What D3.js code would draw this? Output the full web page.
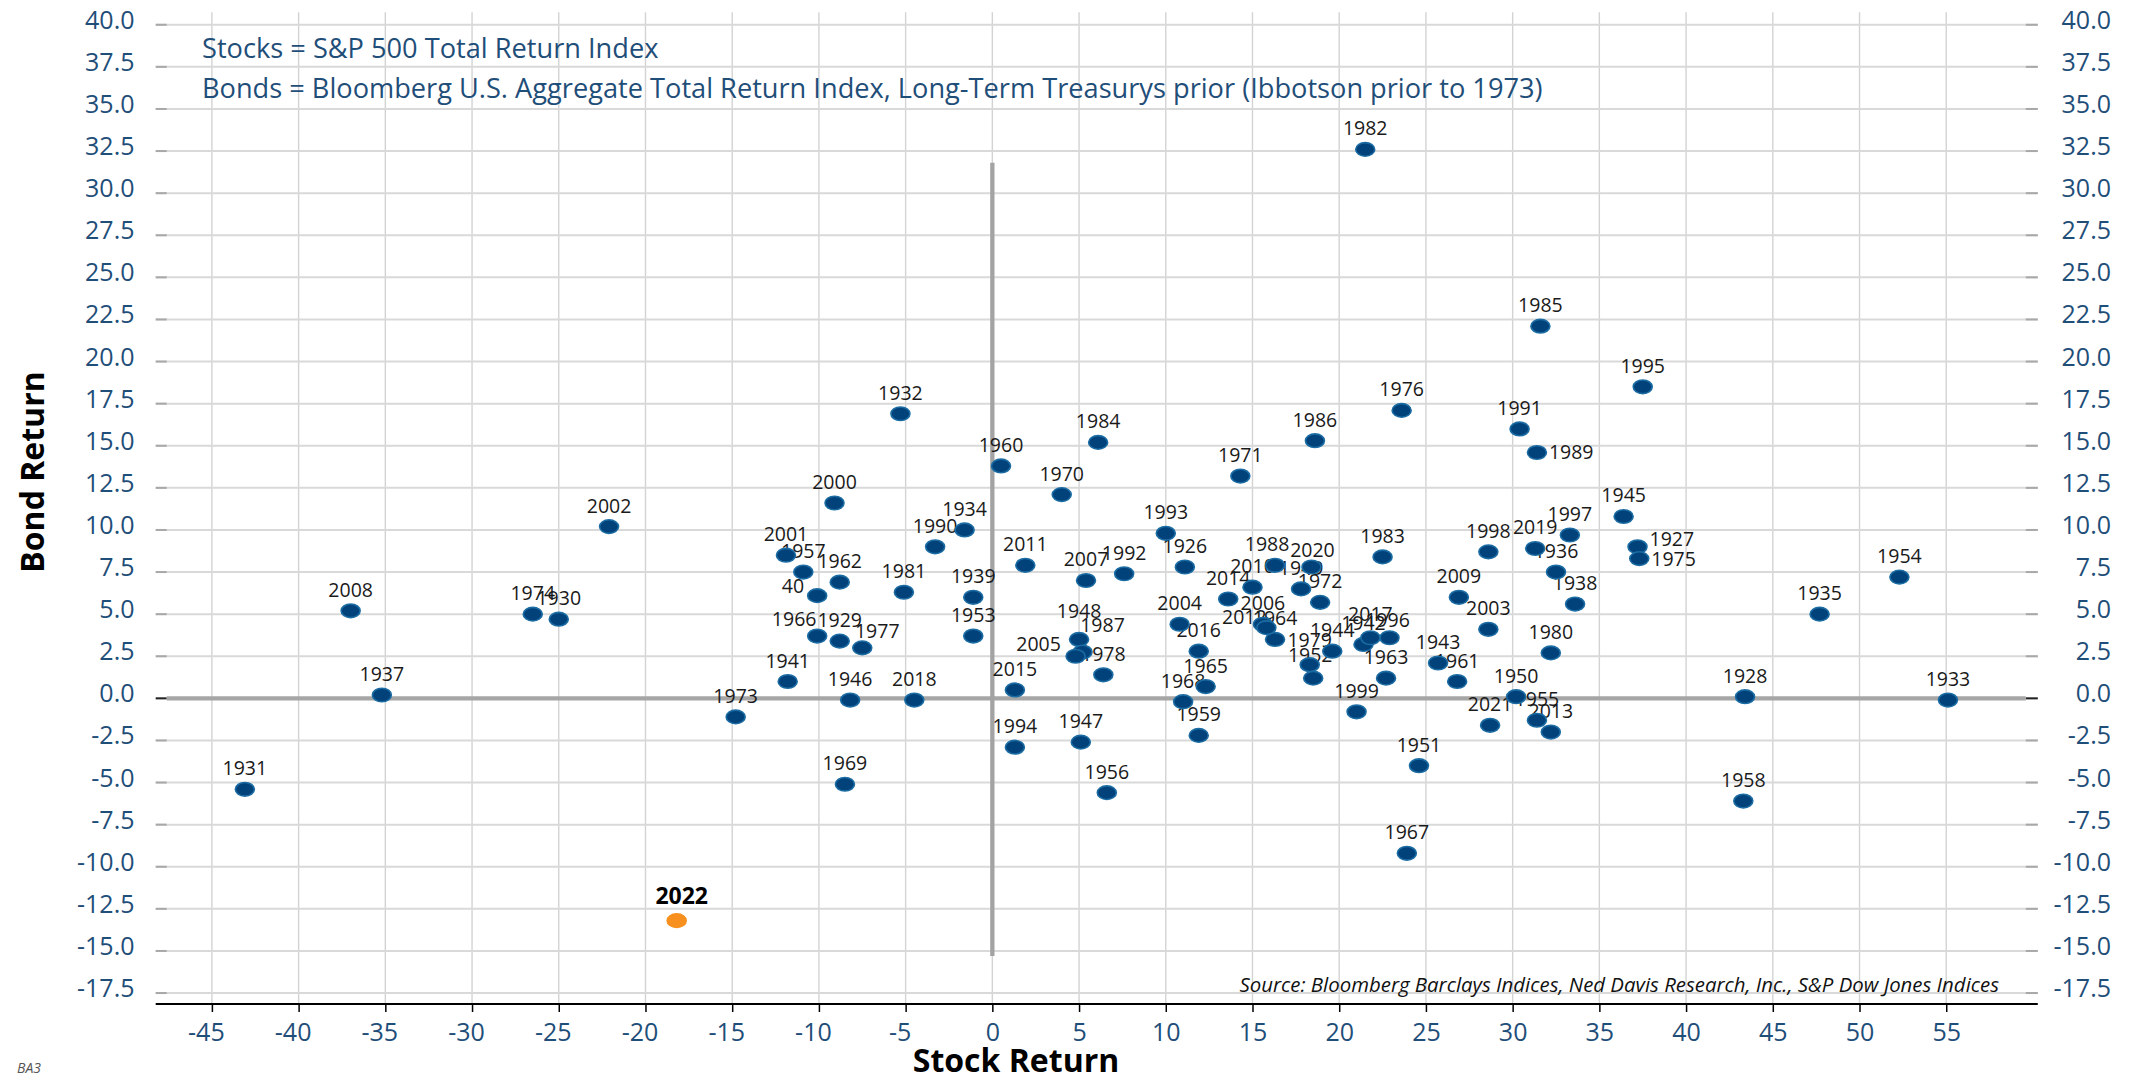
<!DOCTYPE html>
<html>
<head>
<meta charset="utf-8">
<script src="https://cdn.jsdelivr.net/npm/d3@7"></script>
<style>
body { margin: 0; background: #fff; }
svg { display: block; font-family: "Open Sans", sans-serif; }
</style>
</head>
<body>
<svg id="chart" width="2141" height="1078"></svg>
<script>
// calendar years, 1926-2022
const years = [
	1926, 1927, 1928, 1929, 1930, 1931, 1932, 1933, 1934, 1935,
	1936, 1937, 1938, 1939, 1940, 1941, 1942, 1943, 1944, 1945,
	1946, 1947, 1948, 1949, 1950, 1951, 1952, 1953, 1954, 1955,
	1956, 1957, 1958, 1959, 1960, 1961, 1962, 1963, 1964, 1965,
	1966, 1967, 1968, 1969, 1970, 1971, 1972, 1973, 1974, 1975,
	1976, 1977, 1978, 1979, 1980, 1981, 1982, 1983, 1984, 1985,
	1986, 1987, 1988, 1989, 1990, 1991, 1992, 1993, 1994, 1995,
	1996, 1997, 1998, 1999, 2000, 2001, 2002, 2003, 2004, 2005,
	2006, 2007, 2008, 2009, 2010, 2011, 2012, 2013, 2014, 2015,
	2016, 2017, 2018, 2019, 2020, 2021, 2022
];

// S&P 500 total return, %
const stockReturns = [
	11.1, 37.2, 43.4, -8.8, -25.0, -43.1, -5.3, 55.1, -1.6, 47.7,
	32.5, -35.2, 33.6, -1.1, -10.1, -11.8, 21.4, 25.7, 19.6, 36.4,
	-8.2, 5.1, 5.0, 17.8, 30.2, 24.6, 18.5, -1.1, 52.3, 31.4,
	6.6, -10.9, 43.3, 11.9, 0.5, 26.8, -8.8, 22.7, 16.3, 12.3,
	-10.1, 23.9, 11.0, -8.5, 4.0, 14.3, 18.9, -14.8, -26.5, 37.3,
	23.6, -7.5, 6.4, 18.3, 32.2, -5.1, 21.5, 22.5, 6.1, 31.6,
	18.6, 5.2, 16.3, 31.4, -3.3, 30.4, 7.6, 10.0, 1.3, 37.5,
	22.9, 33.3, 28.6, 21.0, -9.1, -11.9, -22.1, 28.6, 10.8, 4.8,
	15.6, 5.4, -37.0, 26.9, 15.0, 1.9, 15.8, 32.2, 13.6, 1.3,
	11.9, 21.8, -4.5, 31.3, 18.4, 28.7, -18.2
];

// bond total return, %
const bondReturns = [
	7.8, 9.0, 0.1, 3.4, 4.7, -5.4, 16.9, -0.1, 10.0, 5.0,
	7.5, 0.2, 5.6, 6.0, 6.1, 1.0, 3.2, 2.1, 2.8, 10.8,
	-0.1, -2.6, 3.5, 6.5, 0.1, -4.0, 1.2, 3.7, 7.2, -1.3,
	-5.6, 7.5, -6.1, -2.2, 13.8, 1.0, 6.9, 1.2, 3.5, 0.7,
	3.7, -9.2, -0.2, -5.1, 12.1, 13.2, 5.7, -1.1, 5.0, 8.3,
	17.1, 3.0, 1.4, 2.0, 2.7, 6.3, 32.6, 8.4, 15.2, 22.1,
	15.3, 2.75, 7.9, 14.6, 9.0, 16.0, 7.4, 9.8, -2.9, 18.5,
	3.6, 9.7, 8.7, -0.8, 11.6, 8.5, 10.2, 4.1, 4.4, 2.5,
	4.4, 7.0, 5.2, 6.0, 6.6, 7.9, 4.2, -2.0, 5.9, 0.5,
	2.8, 3.6, -0.1, 8.9, 7.8, -1.6, -13.2
];

const highlightYear = 2022;
const labelOverrides = { 1940: "40" };

const xTicks = [-45, -40, -35, -30, -25, -20, -15, -10, -5, 0, 5, 10, 15, 20, 25, 30, 35, 40, 45, 50, 55];
const yTicks = [-17.5, -15, -12.5, -10, -7.5, -5, -2.5, 0, 2.5, 5, 7.5, 10, 12.5, 15, 17.5, 20, 22.5, 25, 27.5, 30, 32.5, 35, 37.5, 40];

const noteLines = [
	"Stocks = S&P 500 Total Return Index",
	"Bonds = Bloomberg U.S. Aggregate Total Return Index, Long-Term Treasurys prior (Ibbotson prior to 1973)"
];
const sourceText = "Source: Bloomberg Barclays Indices, Ned Davis Research, Inc., S&P Dow Jones Indices";

// label placement tweaks (px), relative to the default spot centred above the dot
const labelNudge = {
	1966: [-23, 4], 1977: [15, 4], 2012: [-22, 10], 2005: [-37, 9],
	1948: [0, -7], 1987: [20, -6], 1988: [-8, 0], 2020: [1, 4],
	2017: [0, -3], 1996: [-2, 3], 1979: [0, -4], 1952: [-3, -2]
};
const labelRight = { 1989: 0, 1927: -8, 1975: 0 };
const labelLeft = { 1940: 0 };

const points = years.map((yr, i) => ({
	year: yr,
	stock: stockReturns[i],
	bond: bondReturns[i],
	label: labelOverrides[yr] || String(yr)
}));

const plotL = 155.7, plotR = 2037.8, plotT = 12.3, plotB = 1004;

const x = d3.scaleLinear().domain([-48.24, 60.28]).range([plotL, plotR]);
const y = d3.scaleLinear().domain([-18.15, 40.74]).range([plotB, plotT]);

const svg = d3.select("#chart");
const blue = "#1f4e79";

// grid
svg.append("g").selectAll("line")
	.data(xTicks)
	.join("line")
		.attr("x1", d => x(d)).attr("x2", d => x(d))
		.attr("y1", plotT).attr("y2", plotB)
		.attr("stroke", "#d3d3d3")
		.attr("stroke-width", 1.4);

svg.append("g").selectAll("line")
	.data(yTicks)
	.join("line")
		.attr("x1", plotL).attr("x2", plotR)
		.attr("y1", d => y(d)).attr("y2", d => y(d))
		.attr("stroke", "#d9d9d9")
		.attr("stroke-width", 2);

// inner tick marks on both sides
[[plotL, plotL + 11], [plotR - 12, plotR]].forEach(([a, b]) => {
	svg.append("g").selectAll("line")
		.data(yTicks)
		.join("line")
			.attr("x1", a).attr("x2", b)
			.attr("y1", d => y(d)).attr("y2", d => y(d))
			.attr("stroke", d => d === 0 ? "#222" : "#a8a8a8")
			.attr("stroke-width", 2);
});

// zero lines
svg.append("line")
	.attr("x1", plotL + 11).attr("x2", plotR - 12)
	.attr("y1", y(0)).attr("y2", y(0))
	.attr("stroke", "#a6a6a6").attr("stroke-width", 4.3);
svg.append("line")
	.attr("x1", x(0)).attr("x2", x(0))
	.attr("y1", y(31.8)).attr("y2", y(-15.3))
	.attr("stroke", "#a3a3a3").attr("stroke-width", 4.3);

// y tick labels, left and right
const fmt = d => d.toFixed(1);
svg.append("g").selectAll("text")
	.data(yTicks)
	.join("text")
		.attr("x", 134.5)
		.attr("y", d => y(d) + 4)
		.attr("text-anchor", "end")
		.attr("font-size", 25)
		.attr("fill", blue)
		.text(fmt);
svg.append("g").selectAll("text")
	.data(yTicks)
	.join("text")
		.attr("x", 2111)
		.attr("y", d => y(d) + 4)
		.attr("text-anchor", "end")
		.attr("font-size", 25)
		.attr("fill", blue)
		.text(fmt);

// x axis
const xAxis = svg.append("g")
	.attr("transform", `translate(0,${plotB})`)
	.call(d3.axisBottom(x).tickValues(xTicks).tickSize(8).tickPadding(11).tickFormat(d => String(d)));
xAxis.select(".domain").attr("stroke", "#000").attr("stroke-width", 2).attr("d", `M${plotL},0H${plotR}`);
xAxis.selectAll(".tick line").attr("stroke", "#000").attr("stroke-width", 1.5);
xAxis.selectAll(".tick text")
	.attr("font-family", "Open Sans, sans-serif")
	.attr("font-size", 25)
	.attr("fill", blue)
	.attr("dx", d => d < 0 ? -6 : 0);

// axis titles
svg.append("text")
	.attr("x", 1016).attr("y", 1072)
	.attr("text-anchor", "middle")
	.attr("font-size", 32).attr("font-weight", 700).attr("fill", "#000")
	.text("Stock Return");
svg.append("text")
	.attr("transform", "translate(44,472) rotate(-90)")
	.attr("text-anchor", "middle")
	.attr("font-size", 32).attr("font-weight", 700).attr("fill", "#000")
	.text("Bond Return");

// note in the top left
svg.append("g").selectAll("text")
	.data(noteLines)
	.join("text")
		.attr("x", 202)
		.attr("y", (d, i) => 58 + i * 40)
		.attr("font-size", 27.2)
		.attr("fill", blue)
		.text(d => d);

svg.append("text")
	.attr("x", 1999).attr("y", 992)
	.attr("text-anchor", "end")
	.attr("font-size", 20.4).attr("font-style", "italic").attr("fill", "#111")
	.text(sourceText);

svg.append("text")
	.attr("x", 17).attr("y", 1073)
	.attr("font-size", 14).attr("font-style", "italic").attr("fill", "#555")
	.text("BA3");

// year labels go under the dots
function labelPos(d) {
	const cx = x(d.stock), cy = y(d.bond);
	if (d.year in labelRight) return { x: cx + 12, y: cy + 7 + labelRight[d.year], anchor: "start" };
	if (d.year in labelLeft) return { x: cx - 13, y: cy - 3 + labelLeft[d.year], anchor: "end" };
	const n = labelNudge[d.year] || [0, 0];
	if (d.year === highlightYear) return { x: cx + 5, y: cy - 17, anchor: "middle" };
	return { x: cx + n[0], y: cy - 14 + n[1], anchor: "middle" };
}

svg.append("g").selectAll("text")
	.data(points)
	.join("text")
		.each(function(d) {
			const p = labelPos(d);
			d3.select(this).attr("x", p.x).attr("y", p.y).attr("text-anchor", p.anchor);
		})
		.attr("font-size", d => d.year === highlightYear ? 23 : 19.5)
		.attr("font-weight", d => d.year === highlightYear ? 700 : 400)
		.attr("fill", d => d.year === highlightYear ? "#000" : "#1a1a1a")
		.text(d => d.label);

svg.append("g").selectAll("ellipse")
	.data(points)
	.join("ellipse")
		.attr("cx", d => x(d.stock))
		.attr("cy", d => y(d.bond))
		.attr("rx", 9.5)
		.attr("ry", 6.8)
		.attr("fill", d => d.year === highlightYear ? "#f7901e" : "#02427b")
		.attr("stroke", d => d.year === highlightYear ? "#f7901e" : "#1b6ca3")
		.attr("stroke-width", 1.6);
</script>
</body>
</html>
